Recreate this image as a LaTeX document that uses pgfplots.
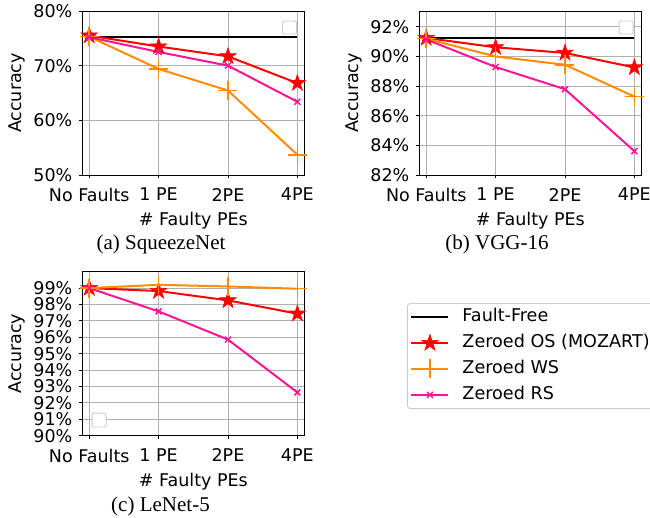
\documentclass[border=0pt]{standalone}
\usepackage{fontspec}
\setmainfont{DejaVu Sans}
\newfontfamily\capfont{Liberation Serif}
\usepackage{pgfplots}
\pgfplotsset{compat=1.18}

\definecolor{mred}{HTML}{FF0000}
\definecolor{morange}{HTML}{FF8C00}
\definecolor{mpink}{HTML}{FF1493}
\definecolor{mgrid}{HTML}{B0B0B0}
\definecolor{mbox}{HTML}{CCCCCC}

% filled five-pointed star, like matplotlib's '*'
\pgfdeclareplotmark{fstar}{%
  \pgfpathmoveto{\pgfpointpolar{90}{\pgfplotmarksize}}%
  \pgfpathlineto{\pgfpointpolar{126}{0.382\pgfplotmarksize}}%
  \pgfpathlineto{\pgfpointpolar{162}{\pgfplotmarksize}}%
  \pgfpathlineto{\pgfpointpolar{198}{0.382\pgfplotmarksize}}%
  \pgfpathlineto{\pgfpointpolar{234}{\pgfplotmarksize}}%
  \pgfpathlineto{\pgfpointpolar{270}{0.382\pgfplotmarksize}}%
  \pgfpathlineto{\pgfpointpolar{306}{\pgfplotmarksize}}%
  \pgfpathlineto{\pgfpointpolar{342}{0.382\pgfplotmarksize}}%
  \pgfpathlineto{\pgfpointpolar{18}{\pgfplotmarksize}}%
  \pgfpathlineto{\pgfpointpolar{54}{0.382\pgfplotmarksize}}%
  \pgfpathclose
  \pgfusepathqfillstroke
}

\tikzset{emptybox/.style={mbox, line width=0.9pt, rounded corners=2pt, fill=white}}

\pgfplotsset{
  faults/.style={
    scale only axis, width=222pt, height=164pt, anchor=south west,
    xmin=-0.1, xmax=3.1,
    xtick={0,1,2,3},
    xticklabels={No Faults,1 PE,2PE,4PE},
    tick pos=left, tick align=outside, major tick length=3.5pt,
    every tick/.style={black, line width=0.9pt},
    grid=major, grid style={mgrid, line width=0.9pt},
    axis line style={black, line width=0.9pt},
    tick label style={font=\fontsize{17.5}{19}\selectfont},
    xticklabel style={yshift=-6pt},
    yticklabel style={xshift=-3pt},
    label style={font=\fontsize{17.5}{19}\selectfont},
    xlabel={\# Faulty PEs}, ylabel={Accuracy},
    xlabel style={at={(axis description cs:0.5,-0.311)}, anchor=base},
    ylabel style={at={(axis description cs:-0.296,0.5)}, anchor=center},
  },
  ff/.style={black, line width=2pt},
  os/.style={mred, line width=2pt, mark=fstar, mark size=8.6pt,
    mark options={fill=mred, line width=0.6pt, sharp corners}},
  ws/.style={morange, line width=2pt, mark=+, mark size=9.5pt,
    mark options={line width=1.5pt}},
  rs/.style={mpink, line width=2pt, mark=x, mark size=4.2pt,
    mark options={line width=1.5pt}},
}

\begin{document}
\begin{tikzpicture}
\path[use as bounding box] (0,0) rectangle (650pt,518pt);

% (a) SqueezeNet
\begin{axis}[faults, at={(82.3pt,343pt)},
  ymin=50, ymax=80, ytick={50,60,70,80},
  yticklabels={50\%,60\%,70\%,80\%}]
\addplot[ff] coordinates {(0,75.3) (3,75.3)};
\addplot[os] coordinates {(0,75.5) (1,73.5) (2,71.7) (3,66.8)};
\addplot[ws] coordinates {(0,75.3) (1,69.4) (2,65.45) (3,53.7)};
\addplot[rs] coordinates {(0,75.2) (1,72.5) (2,70.0) (3,63.4)};
\draw[emptybox] (axis description cs:0.902,0.860) rectangle (axis description cs:0.965,0.939);
\end{axis}

% (b) VGG-16
\begin{axis}[faults, at={(419.3pt,343pt)},
  ymin=82, ymax=93.07, ytick={82,84,86,88,90,92},
  yticklabels={82\%,84\%,86\%,88\%,90\%,92\%}]
\addplot[ff] coordinates {(0,91.28) (3,91.28)};
\addplot[os] coordinates {(0,91.25) (1,90.62) (2,90.24) (3,89.26)};
\addplot[ws] coordinates {(0,91.2) (1,90.0) (2,89.44) (3,87.29)};
\addplot[rs] coordinates {(0,91.15) (1,89.29) (2,87.79) (3,83.61)};
\draw[emptybox] (axis description cs:0.900,0.860) rectangle (axis description cs:0.963,0.939);
\end{axis}

% (c) LeNet-5
\begin{axis}[faults, at={(82.3pt,82.3pt)},
  ymin=90, ymax=100, ytick={90,91,...,99},
  yticklabels={90\%,91\%,92\%,93\%,94\%,95\%,96\%,97\%,98\%,99\%},
  legend style={at={(axis description cs:1.4626,0.809)}, anchor=north west,
    draw=mbox, line width=0.9pt, rounded corners=3pt, fill=white,
    font=\fontsize{17.6}{19}\selectfont,
    inner xsep=3pt, inner ysep=2.5pt, column sep=10pt, row sep=3.5pt,
    nodes={inner sep=3pt, text height=12.8pt, text depth=3.6pt}},
  legend cell align=left,
  legend image code/.code={\draw[sharp corners, mark repeat=2, mark phase=2, #1]
    plot coordinates {(0pt,0pt) (18.5pt,0pt) (37pt,0pt)};}]
\addlegendimage{ff}
\addlegendentry{Fault-Free}
\addplot[os] coordinates {(0,99.0) (1,98.82) (2,98.25) (3,97.44)};
\addlegendentry{Zeroed OS (MOZART)}
\addplot[ws] coordinates {(0,99.0) (1,99.2) (2,99.1) (3,98.96)};
\addlegendentry{Zeroed WS}
\addplot[rs] coordinates {(0,99.0) (1,97.58) (2,95.86) (3,92.64)};
\addlegendentry{Zeroed RS}
\draw[emptybox] (axis description cs:0.044,0.053) rectangle (axis description cs:0.107,0.138);
\end{axis}

\node[font=\capfont\fontsize{21}{24}\selectfont, anchor=base] at (161pt,268pt) {(a) SqueezeNet};
\node[font=\capfont\fontsize{21}{24}\selectfont, anchor=base] at (497pt,268pt) {(b) VGG-16};
\node[font=\capfont\fontsize{21}{24}\selectfont, anchor=base] at (160.5pt,6pt) {(c) LeNet-5};
\end{tikzpicture}
\end{document}
